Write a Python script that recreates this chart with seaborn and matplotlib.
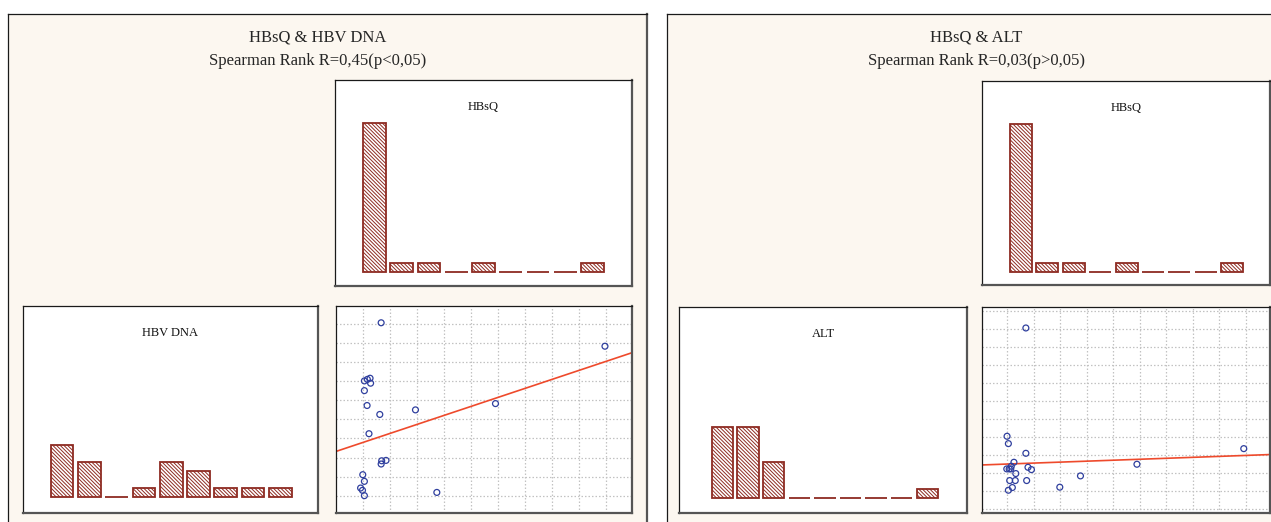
import matplotlib
matplotlib.use("Agg")
import matplotlib.pyplot as plt
import seaborn as sns

# ---------------- data ----------------
bin_index = list(range(9))
hbsq_counts = [17, 1, 1, 0, 1, 0, 0, 0, 1]
hbv_dna_counts = [6, 4, 0, 1, 4, 3, 1, 1, 1]
alt_counts = [8, 8, 4, 0, 0, 0, 0, 0, 1]

# HBsQ vs HBV DNA (scaled units)
dna_hbsq = [1.67, 1.05, 1.26, 1.28, 1.05, 1.15, 1.62, 2.94, 1.22, 1.69, 1.85,
            1.67, 0.99, 1.05, 0.91, 0.98, 1.05, 3.73, 5.90, 9.95, 1.16]
dna_value = [10.07, 7.02, 7.16, 6.90, 6.51, 5.73, 5.26, 5.50, 4.25, 2.83, 2.85,
             2.66, 2.10, 1.75, 1.40, 1.28, 1.00, 1.17, 5.83, 8.84, 7.10]
dna_fit = (3.32, 0.473)  # intercept, slope

# HBsQ vs ALT (scaled units)
alt_hbsq = [1.71, 1.00, 1.05, 1.71, 1.26, 0.99, 1.08, 1.14, 1.33, 1.79, 1.92,
            1.10, 1.31, 1.74, 1.20, 1.05, 2.99, 3.77, 5.90, 9.93, 1.16]
alt_value = [10.07, 4.03, 3.62, 3.08, 2.58, 2.21, 2.21, 2.21, 1.95, 2.30, 2.17,
             1.56, 1.56, 1.56, 1.17, 1.02, 1.19, 1.82, 2.47, 3.34, 2.36]
alt_fit = (2.427, 0.0534)

titles_left = ["HBsQ & HBV DNA", "Spearman Rank R=0,45(p<0,05)"]
titles_right = ["HBsQ & ALT", "Spearman Rank R=0,03(p>0,05)"]

# ---------------- style ----------------
sns.set_style("white")
plt.rcParams["font.family"] = ["Liberation Serif", "DejaVu Serif"]
plt.rcParams["hatch.linewidth"] = 0.7

CREAM = "#FCF7F0"
BAR_RED = "#8E2B22"
PT_BLUE = "#2F3F9E"
LINE_RED = "#EE4A2C"
GRID = "#C2C2C2"

W, H = 1271, 522
fig = plt.figure(figsize=(W / 100, H / 100), dpi=100)
fig.patch.set_facecolor("white")


def box(x0, y0, x1, y1, z=1):
    return fig.add_axes([x0 / W, 1 - y1 / H, (x1 - x0) / W, (y1 - y0) / H], zorder=z)


def frame(ax, heavy="#555555"):
    ax.set_xticks([])
    ax.set_yticks([])
    for s in ("top", "left"):
        ax.spines[s].set_color("#1a1a1a")
        ax.spines[s].set_linewidth(0.9)
    for s in ("right", "bottom"):
        ax.spines[s].set_color(heavy)
        ax.spines[s].set_linewidth(1.6)


# outer panels
for (x0, x1, right_vis) in [(8, 647, True), (667, 1320, False)]:
    p = box(x0, 14, x1, 540, z=0)
    p.set_facecolor(CREAM)
    frame(p)
    p.spines["bottom"].set_visible(False)
    p.spines["right"].set_visible(right_vis)

fig.text(318 / W, 1 - 38 / H, titles_left[0], ha="center", va="center", fontsize=12)
fig.text(318 / W, 1 - 61 / H, titles_left[1], ha="center", va="center", fontsize=12)
fig.text(976 / W, 1 - 38 / H, titles_right[0], ha="center", va="center", fontsize=12)
fig.text(976 / W, 1 - 61 / H, titles_right[1], ha="center", va="center", fontsize=12)


def histogram(ax, counts, label, xlim, ylim):
    sns.barplot(x=bin_index, y=counts, ax=ax, color="white", edgecolor=BAR_RED,
                linewidth=1.3, hatch="\\" * 9, width=0.83, errorbar=None,
                saturation=1)
    ax.set_xlim(*xlim)
    ax.set_ylim(*ylim)
    ax.set_xlabel("")
    ax.set_ylabel("")
    ax.set_facecolor("white")
    frame(ax)
    ax.text(0.5, 0.87, label, transform=ax.transAxes, ha="center", va="center",
            fontsize=9, color="#111111")


def scatter(ax, x, y, fit, xlim, ylim, yticks):
    sns.scatterplot(x=x, y=y, ax=ax, marker="o", s=18, color=PT_BLUE, zorder=3)
    pts = ax.collections[-1]
    pts.set_facecolor("none")
    pts.set_edgecolor(PT_BLUE)
    pts.set_linewidth(0.9)
    ax.axline((0, fit[0]), slope=fit[1], color=LINE_RED, linewidth=1.2, zorder=2)
    ax.set_xlim(*xlim)
    ax.set_ylim(*ylim)
    ax.set_xlabel("")
    ax.set_ylabel("")
    ax.set_facecolor("white")
    frame(ax)
    ax.set_xticks(range(1, 11))
    ax.set_yticks(yticks)
    ax.tick_params(length=0, labelbottom=False, labelleft=False)
    ax.grid(True, color=GRID, linestyle=(0, (1.2, 1.6)), linewidth=0.9)
    ax.set_axisbelow(True)


# left group
histogram(box(335, 80, 632, 286), hbsq_counts, "HBsQ", (-1.45, 9.45), (-1.6, 21.9))
histogram(box(23, 306, 318, 513), hbv_dna_counts, "HBV DNA", (-1.43, 9.38), (-1.85, 22.0))
scatter(box(336, 306, 632, 513), dna_hbsq, dna_value, dna_fit,
        (0, 10.95), (0.09, 10.95), range(1, 11))

# right group
histogram(box(982, 81, 1270, 285), hbsq_counts, "HBsQ", (-1.475, 9.43), (-1.5, 22.0))
histogram(box(679, 307, 967, 513), alt_counts, "ALT", (-1.7, 9.55), (-1.7, 21.5))
scatter(box(982, 307, 1270, 513), alt_hbsq, alt_value, alt_fit,
        (0.055, 10.92), (-0.25, 11.24), range(0, 12))

fig.savefig("out.png", dpi=100, facecolor="white")
